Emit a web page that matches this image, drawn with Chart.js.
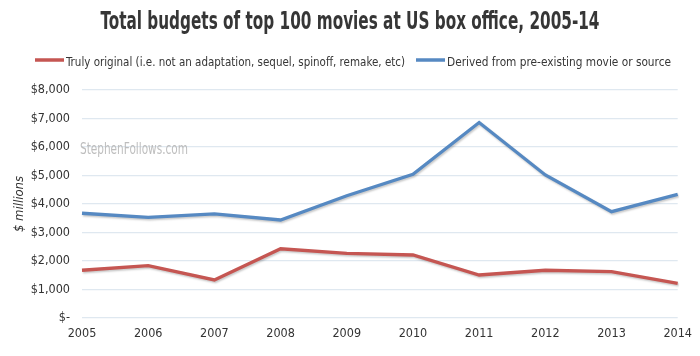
<!DOCTYPE html>
<html>
<head>
<meta charset="utf-8">
<script src="https://cdn.jsdelivr.net/npm/chart.js@4/dist/chart.umd.min.js"></script>
<style>
html,body{margin:0;padding:0;background:#fff;}
#wrap{width:700px;height:356px;position:relative;}
</style>
</head>
<body>
<div id="wrap"><canvas id="c" width="700" height="356"></canvas></div>
<script>
const years = ['2005','2006','2007','2008','2009','2010','2011','2012','2013','2014'];
const trulyOriginal = [1675, 1835, 1335, 2430, 2265, 2210, 1510, 1675, 1625, 1215];
const derived = [3675, 3530, 3650, 3440, 4290, 5040, 6860, 5020, 3730, 4340];
const seriesNames = ['Truly original (i.e. not an adaptation, sequel, spinoff, remake, etc)', 'Derived from pre-existing movie or source'];
const yTickValues = [0, 1000, 2000, 3000, 4000, 5000, 6000, 7000, 8000];
const titleText = 'Total budgets of top 100 movies at US box office, 2005-14';
const watermark = 'StephenFollows.com';
const axisTitle = '$ millions';

const FONT = '"DejaVu Sans Condensed", "DejaVu Sans", sans-serif';
const RED = '#c55652';
const BLUE = '#5689c2';

function drawCondensed(ctx, text, x, y, targetWidth, align) {
  const w = ctx.measureText(text).width;
  const s = targetWidth / w;
  ctx.save();
  let left = x;
  if (align === 'center') left = x - targetWidth / 2;
  ctx.translate(left, y);
  ctx.scale(s, 1);
  ctx.textAlign = 'left';
  ctx.fillText(text, 0, 0);
  ctx.restore();
}

const decorPlugin = {
  id: 'decor',
  afterDraw(chart) {
    const ctx = chart.ctx;
    ctx.save();
    // title
    ctx.font = 'bold 24px ' + FONT;
    ctx.fillStyle = '#363636';
    ctx.textBaseline = 'alphabetic';
    drawCondensed(ctx, titleText, 350, 29, 499, 'center');
    // legend
    const items = [
      { x: 35, w: 339, color: chart.data.datasets[0].borderColor, text: chart.data.datasets[0].label },
      { x: 416, w: 224, color: chart.data.datasets[1].borderColor, text: chart.data.datasets[1].label }
    ];
    ctx.font = '13px ' + FONT;
    items.forEach(it => {
      ctx.strokeStyle = it.color;
      ctx.lineWidth = 3.5;
      ctx.beginPath();
      ctx.moveTo(it.x, 60);
      ctx.lineTo(it.x + 29, 60);
      ctx.stroke();
      ctx.fillStyle = '#363636';
      drawCondensed(ctx, it.text, it.x + 31, 66, it.w, 'left');
    });
    // watermark
    ctx.font = '15px ' + FONT;
    ctx.fillStyle = '#bdbdbd';
    ctx.textBaseline = 'middle';
    drawCondensed(ctx, watermark, chart.chartArea.left - 2, chart.scales.y.getPixelForValue(6000) + 3, 108, 'left');
    ctx.restore();
  }
};
const shadowPlugin = {
  id: 'shadow',
  beforeDatasetsDraw(chart) {
    const ctx = chart.ctx;
    ctx.save();
    ctx.shadowColor = 'rgba(0,0,0,0.22)';
    ctx.shadowBlur = 2;
    ctx.shadowOffsetX = 1;
    ctx.shadowOffsetY = 1.5;
  },
  afterDatasetsDraw(chart) { chart.ctx.restore(); }
};

new Chart(document.getElementById('c'), {
  type: 'line',
  data: {
    labels: years,
    datasets: [
      { label: seriesNames[0], data: trulyOriginal, borderColor: RED, backgroundColor: RED, borderWidth: 3.3, pointRadius: 0, tension: 0 },
      { label: seriesNames[1], data: derived, borderColor: BLUE, backgroundColor: BLUE, borderWidth: 3.3, pointRadius: 0, tension: 0 }
    ]
  },
  options: {
    responsive: false,
    animation: false,
    devicePixelRatio: 1,
    layout: { padding: { left: 8, right: 20, top: 90, bottom: 0 } },
    plugins: {
      title: { display: false },
      legend: { display: false },
      tooltip: { enabled: false }
    },
    scales: {
      x: {
        offset: false,
        grid: { display: false, drawTicks: false },
        border: { display: false },
        ticks: { color: '#333', font: { family: FONT, size: 12.5 }, padding: 8, maxRotation: 0 },
        afterFit(scale) { scale.height = 38; }
      },
      y: {
        min: 0, max: 8000,
        afterBuildTicks(scale) { scale.ticks = yTickValues.map(v => ({ value: v })); },
        ticks: { color: '#333', font: { family: FONT, size: 12.5 }, padding: 12,
          callback: v => v === 0 ? '$-' : '$' + v.toLocaleString('en-US') },
        grid: { color: '#dfe8f0', lineWidth: 1.2, drawTicks: false },
        border: { display: false },
        title: { display: true, text: axisTitle, color: '#333', font: { family: FONT, size: 13, style: 'italic' }, padding: { top: 4, bottom: 0 } },
        afterFit(scale) { scale.width = 74; }
      }
    }
  },
  plugins: [shadowPlugin, decorPlugin]
});
</script>
</body>
</html>
